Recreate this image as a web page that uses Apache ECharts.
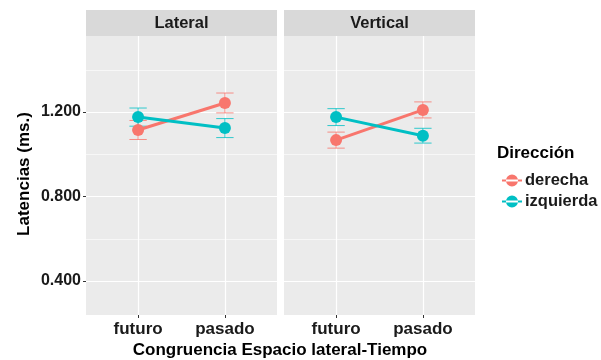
<!DOCTYPE html>
<html>
<head>
<meta charset="utf-8">
<script src="https://cdn.jsdelivr.net/npm/echarts@6/dist/echarts.min.js"></script>
<style>html,body{margin:0;padding:0;background:#fff}#c{width:601px;height:360px}</style>
</head>
<body>
<div id="c"></div>
<script>
const categories = ['futuro', 'pasado'];
const panels = ['Lateral', 'Vertical'];
const groups = ['derecha', 'izquierda'];
const groupColors = ['#F8766D', '#00BFC4'];
// means per panel, per group, per category
const lateralDerecha = [1.115, 1.243];
const lateralIzquierda = [1.176, 1.124];
const verticalDerecha = [1.067, 1.210];
const verticalIzquierda = [1.176, 1.088];
// error bar half-widths
const lateralDerechaErr = [0.045, 0.047];
const lateralIzquierdaErr = [0.043, 0.045];
const verticalDerechaErr = [0.038, 0.038];
const verticalIzquierdaErr = [0.040, 0.035];
const yTicks = [0.4, 0.8, 1.2];
const yTickLabels = ['0.400', '0.800', '1.200'];
const yMinorGrid = [0.6, 1.0, 1.4];

const means = [[lateralDerecha, lateralIzquierda], [verticalDerecha, verticalIzquierda]];
const errs = [[lateralDerechaErr, lateralIzquierdaErr], [verticalDerechaErr, verticalIzquierdaErr]];

const font = 'Liberation Sans, Arial, sans-serif';
const gridLefts = [86, 284];
const gridW = 191, gridTop = 36, gridH = 279;

const grids = [], xAxes = [], yAxes = [], series = [], graphics = [];
panels.forEach((p, pi) => {
  grids.push({left: gridLefts[pi], top: gridTop, width: gridW, height: gridH,
    show: true, backgroundColor: '#EBEBEB', borderWidth: 0});
  xAxes.push({type: 'value', gridIndex: pi, min: 0.4, max: 2.6,
    axisLine: {show: false}, splitLine: {show: false},
    axisTick: {show: true, length: 3, customValues: categories.map((c, i) => i + 1), lineStyle: {color: '#333', width: 1}},
    axisLabel: {customValues: categories.map((c, i) => i + 1), formatter: v => categories[Math.round(v) - 1] || '',
      color: '#1a1a1a', fontWeight: 'bold', fontSize: 17, fontFamily: font, margin: 6}});
  yAxes.push({type: 'value', gridIndex: pi, min: 0.239, max: 1.56,
    axisLine: {show: false}, splitLine: {show: false},
    axisTick: {show: pi === 0, length: 3, customValues: yTicks, lineStyle: {color: '#333', width: 1}},
    axisLabel: {show: pi === 0, customValues: yTicks, formatter: v => {
      const k = yTicks.findIndex(t => Math.abs(t - v) < 1e-6); return k >= 0 ? yTickLabels[k] : ''; },
      color: '#1a1a1a', fontWeight: 'bold', fontSize: 16, fontFamily: font, margin: 5}});
  // gridlines
  const ml = [];
  yMinorGrid.forEach(v => ml.push({yAxis: v, lineStyle: {color: '#fff', width: 0.6, type: 'solid'}}));
  yTicks.forEach(v => ml.push({yAxis: v, lineStyle: {color: '#fff', width: 1.2, type: 'solid'}}));
  categories.forEach((c, i) => ml.push({xAxis: i + 1, lineStyle: {color: '#fff', width: 1.2, type: 'solid'}}));
  series.push({type: 'line', name: 'grid' + pi, xAxisIndex: pi, yAxisIndex: pi, data: [], z: 0,
    markLine: {silent: true, symbol: 'none', label: {show: false}, z: 0, animation: false, data: ml}});
  groups.forEach((g, gi) => {
    const m = means[pi][gi], e = errs[pi][gi];
    series.push({type: 'custom', name: g + '_err' + pi, xAxisIndex: pi, yAxisIndex: pi, z: 2,
      data: m.map((v, i) => [i + 1, v - e[i], v + e[i]]),
      renderItem: (params, api) => {
        const x = api.value(0), lo = api.value(1), hi = api.value(2);
        const pLo = api.coord([x, lo]), pHi = api.coord([x, hi]);
        const l = api.coord([x - 0.1, lo])[0], r = api.coord([x + 0.1, lo])[0];
        const st = {stroke: groupColors[gi], lineWidth: 1, opacity: 0.8};
        return {type: 'group', children: [
          {type: 'line', shape: {x1: pLo[0], y1: pLo[1], x2: pHi[0], y2: pHi[1]}, style: st},
          {type: 'line', shape: {x1: l, y1: pLo[1], x2: r, y2: pLo[1]}, style: st},
          {type: 'line', shape: {x1: l, y1: pHi[1], x2: r, y2: pHi[1]}, style: st}]};
      }});
    series.push({type: 'line', name: g, xAxisIndex: pi, yAxisIndex: pi, z: 3 + gi,
      data: m.map((v, i) => [i + 1, v]), symbol: 'circle', symbolSize: 12,
      itemStyle: {color: groupColors[gi]}, lineStyle: {color: groupColors[gi], width: 3}});
  });
  graphics.push({type: 'rect', shape: {x: gridLefts[pi], y: 10, width: gridW, height: 26}, style: {fill: '#D9D9D9'}});
  graphics.push({type: 'text', x: gridLefts[pi] + gridW / 2, y: 23,
    style: {text: p, fill: '#1a1a1a', font: 'bold 16.5px ' + font, align: 'center', verticalAlign: 'middle'}});
});
graphics.push({type: 'text', x: 280, y: 350,
  style: {text: 'Congruencia Espacio lateral-Tiempo', fill: '#000', font: 'bold 17px ' + font, align: 'center', verticalAlign: 'middle'}});
graphics.push({type: 'text', x: 24, y: 174, rotation: Math.PI / 2,
  style: {text: 'Latencias (ms.)', fill: '#000', font: 'bold 17px ' + font, align: 'center', verticalAlign: 'middle'}});
graphics.push({type: 'text', x: 497, y: 153,
  style: {text: 'Dirección', fill: '#000', font: 'bold 17px ' + font, align: 'left', verticalAlign: 'middle'}});

const chart = echarts.init(document.getElementById('c'), null, {renderer: 'canvas'});
chart.setOption({
  animation: false,
  grid: grids, xAxis: xAxes, yAxis: yAxes, series: series, graphic: graphics,
  legend: {data: groups, left: 497, top: 167, orient: 'vertical', itemGap: 4, itemWidth: 20, itemHeight: 14,
    icon: 'path://M0,6 L20,6 L20,8 L0,8 Z M4,7 A6,6 0 1,0 16,7 A6,6 0 1,0 4,7 Z',
    selectedMode: false,
    textStyle: {color: '#1a1a1a', fontWeight: 'bold', fontSize: 16.5, fontFamily: font, padding: [0, 0, 0, -2]}}
});
</script>
</body>
</html>
